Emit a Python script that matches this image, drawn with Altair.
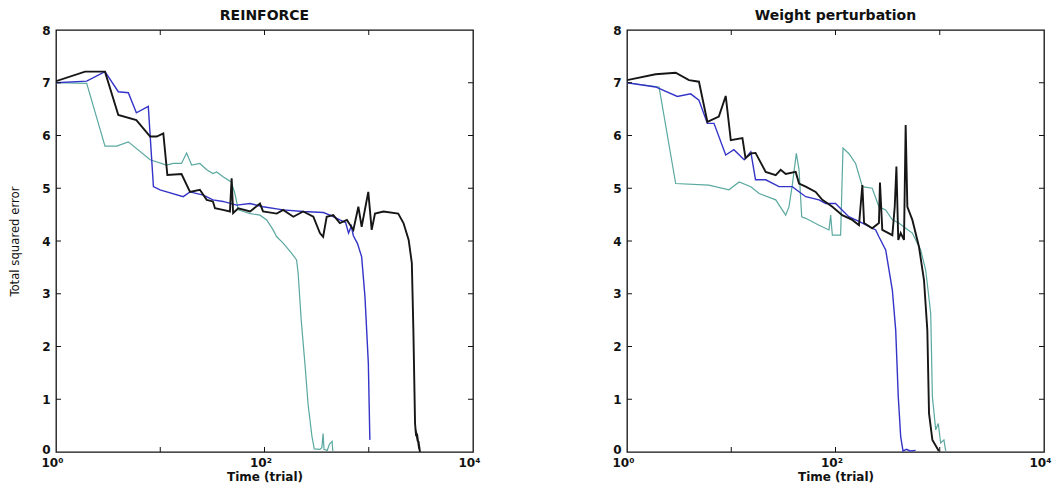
import altair as alt
import pandas as pd

# ---------------- data ----------------
# REINFORCE panel
rf_teal_x = [1, 1.97, 2.95, 3.82, 4.94, 8, 11.5, 13.3, 16, 17.9, 20, 24, 27.9, 32, 34.8, 40, 48,
             52, 56, 62.7, 72.8, 90.5, 105, 121, 131, 151, 180, 203, 210, 225, 246, 262, 285,
             300, 340, 355, 365, 372, 400, 420, 445, 452]
rf_teal_y = [7.0, 6.99, 5.80, 5.80, 5.88, 5.54, 5.44, 5.47, 5.47, 5.67, 5.44, 5.47, 5.35, 5.28, 5.31, 5.22, 5.12,
             4.90, 4.59, 4.56, 4.52, 4.49, 4.40, 4.21, 4.08, 3.96, 3.78, 3.64, 3.40, 2.50, 1.60, 0.90, 0.30,
             0.06, 0.05, 0.08, 0.35, 0.05, 0.03, 0.15, 0.20, 0.02]

rf_blue_x = [1, 1.97, 2.95, 3.96, 4.94, 5.9, 7.68, 8.6, 9.95, 16.6, 19.3, 25.9, 32, 40, 54, 72.8,
             96.8, 151, 235, 367, 425, 528, 600, 640, 680, 712, 780, 855, 920, 991, 1025]
rf_blue_y = [7.0, 7.03, 7.21, 6.83, 6.81, 6.43, 6.55, 5.03, 4.97, 4.84, 4.93, 4.87, 4.78, 4.75, 4.68, 4.71,
             4.65, 4.59, 4.56, 4.54, 4.49, 4.40, 4.35, 4.15, 4.28, 4.10, 3.95, 3.70, 2.94, 1.68, 0.23]

rf_black_x = [1, 1.9, 2.95, 3.96, 5.9, 8, 9.25, 10.7, 11.7, 16, 19.3, 24, 27.9, 32, 33.5, 40, 46.6,
              48.4, 50, 56, 72.8, 90.5, 96.8, 131, 151, 189, 235, 294, 340, 365, 395, 457, 528,
              617, 712, 795, 855, 990, 1067, 1148, 1384, 1917, 2153, 2415, 2590, 2680, 2780,
              2850, 2800, 2950, 2900, 3050, 3000, 3100]
rf_black_y = [7.03, 7.21, 7.21, 6.39, 6.29, 5.98, 5.98, 6.04, 5.25, 5.27, 4.93, 4.97, 4.78, 4.75, 4.62, 4.59, 4.56,
              5.19, 4.53, 4.62, 4.56, 4.71, 4.56, 4.52, 4.59, 4.46, 4.56, 4.46, 4.15, 4.08, 4.46, 4.49, 4.34,
              4.40, 4.21, 4.65, 4.27, 4.93, 4.21, 4.52, 4.56, 4.52, 4.34, 4.02, 3.58, 2.31, 0.54,
              0.30, 0.45, 0.20, 0.35, 0.05, 0.20, 0.0]

# Weight perturbation panel
wp_teal_x = [1, 2.03, 2.93, 6.1, 9.5, 11.9, 15.4, 18.5, 26.7, 33.3, 35.8, 38.5, 42.1, 44.7, 47.4, 51.8,
             69.5, 86.6, 89.9, 93.3, 112, 118, 134, 156, 181, 225, 261, 303, 351, 405, 471, 546,
             610, 656, 733, 819, 850, 915, 968, 1020, 1097, 1140]
wp_teal_y = [7.0, 6.92, 5.09, 5.06, 4.97, 5.12, 5.03, 4.90, 4.78, 4.49, 4.65, 5.06, 5.66, 5.35, 4.46, 4.43,
             4.30, 4.21, 4.49, 4.11, 4.11, 5.76, 5.66, 5.47, 5.03, 5.00, 4.65, 4.59, 4.40, 4.34, 4.24, 4.15,
             3.96, 3.83, 3.45, 2.63, 1.05, 0.42, 0.54, 0.17, 0.23, 0.02]

wp_blue_x = [1, 1.88, 3.04, 4.08, 4.9, 5.9, 6.83, 8.85, 10.6, 13.3, 15.4, 17.1, 21.4, 28.7, 38.5, 51.8,
             69.5, 80.5, 100, 134, 168, 243, 261, 303, 351, 378, 400, 422, 444, 480, 520, 587]
wp_blue_y = [7.0, 6.92, 6.74, 6.79, 6.67, 6.23, 6.23, 5.63, 5.73, 5.54, 5.69, 5.16, 5.16, 5.03, 5.03, 4.84,
             4.78, 4.71, 4.71, 4.46, 4.37, 4.21, 4.08, 3.83, 3.07, 2.31, 1.05, 0.29, 0.02, 0.05, 0.02, 0.03]

wp_black_x = [1, 1.88, 2.93, 3.93, 4.9, 5.9, 7.6, 8.85, 9.9, 12.8, 13.7, 15.4, 17.1, 21.4, 26.7, 29.8,
              33.3, 41.5, 44.7, 51.8, 64.5, 74.7, 93.3, 116, 145, 168, 181, 188, 225, 261, 267, 281,
              351, 370, 384, 400, 422, 454, 471, 489, 546, 632, 706, 760, 789, 850, 980]
wp_black_y = [7.05, 7.16, 7.19, 7.05, 7.02, 6.26, 6.36, 6.75, 5.91, 5.95, 5.57, 5.66, 5.67, 5.31, 5.25, 5.35,
              5.27, 5.31, 5.09, 5.03, 4.93, 4.78, 4.65, 4.49, 4.40, 4.30, 5.06, 4.34, 4.24, 4.34, 5.11, 4.21,
              4.11, 4.65, 5.41, 4.02, 4.15, 4.02, 6.20, 4.65, 4.40, 3.89, 3.26, 2.31, 0.73, 0.23, 0.02]

titles = ["REINFORCE", "Weight perturbation"]
series_names = ["teal", "blue", "black"]
series_colors = ["#5aa8a0", "#3434c8", "#161616"]
series_widths = [1.2, 1.4, 1.9]

x_tick_values = [1, 100, 10000]
x_minor_ticks = [10, 100, 1000]
y_tick_values = [0, 1, 2, 3, 4, 5, 6, 7, 8]
y_inner_ticks = [1, 2, 3, 4, 5, 6, 7]

W, H = 417, 422
TICK = 5
FONT = "DejaVu Sans"
NARROW = "DejaVu Sans Condensed, Liberation Sans Narrow, Liberation Sans"


def make_df(xs_list, ys_list):
    rows = []
    for name, xs, ys in zip(series_names, xs_list, ys_list):
        for i, (xv, yv) in enumerate(zip(xs, ys)):
            rows.append({"x": xv, "y": yv, "s": name, "i": i})
    return pd.DataFrame(rows)


xscale = alt.Scale(type="log", domain=[1, 10000])
yscale = alt.Scale(domain=[0, 8], nice=False, zero=False)
label_expr = "datum.value == 1 ? '10⁰' : datum.value == 100 ? '10²' : '10⁴'"


def panel(df, title, show_ytitle):
    xaxis = alt.Axis(values=x_tick_values, labelExpr=label_expr, ticks=False, domain=False, grid=False,
                     title="Time (trial)", labelFont=FONT, labelFontSize=12, labelFontWeight="bold",
                     labelColor="#111", labelPadding=5, labelOffset=-4, titleFont=FONT, titleFontSize=12,
                     titleFontWeight="bold", titleColor="#111", titlePadding=3, labelFlush=False)
    yaxis = alt.Axis(values=y_tick_values, ticks=False, domain=False, grid=False,
                     title="Total squared error" if show_ytitle else "",
                     labelFont=FONT, labelFontSize=12, labelFontWeight="bold", labelColor="#111",
                     labelPadding=6,
                     labelOffset={"condition": {"test": "datum.value == 0", "value": -3}, "value": 0},
                     titleFont=NARROW, titleFontSize=13,
                     titleFontWeight="normal", titleColor="#111", titlePadding=20)
    X = alt.X("x:Q", scale=xscale, axis=xaxis)
    Y = alt.Y("y:Q", scale=yscale, axis=yaxis)
    layers = []
    for k, name in enumerate(series_names):
        sub = df[df.s == name]
        layers.append(
            alt.Chart(sub).mark_line(color=series_colors[k], strokeWidth=series_widths[k],
                                     clip=True).encode(x=X, y=Y, order="i:Q")
        )
    xt = pd.DataFrame({"x": x_minor_ticks})
    yt = pd.DataFrame({"y": y_inner_ticks})
    tick_style = dict(color="#111", strokeWidth=1)
    layers.append(alt.Chart(xt).mark_rule(**tick_style).encode(
        x=X, y=alt.value(H), y2=alt.value(H - TICK)))
    layers.append(alt.Chart(xt).mark_rule(**tick_style).encode(
        x=X, y=alt.value(0), y2=alt.value(TICK)))
    layers.append(alt.Chart(yt).mark_rule(**tick_style).encode(
        y=Y, x=alt.value(0), x2=alt.value(TICK)))
    layers.append(alt.Chart(yt).mark_rule(**tick_style).encode(
        y=Y, x=alt.value(W), x2=alt.value(W - TICK)))
    return alt.layer(*layers).properties(
        width=W, height=H,
        title=alt.TitleParams(title, font=FONT, fontSize=14, fontWeight="bold", color="#111",
                              offset=1, frame="group"),
    )


df_rf = make_df([rf_teal_x, rf_blue_x, rf_black_x], [rf_teal_y, rf_blue_y, rf_black_y])
df_wp = make_df([wp_teal_x, wp_blue_x, wp_black_x], [wp_teal_y, wp_blue_y, wp_black_y])

chart = alt.hconcat(
    panel(df_rf, titles[0], True),
    panel(df_wp, titles[1], False),
    spacing=130,
).properties(
    padding={"left": 0, "top": 0, "right": 0, "bottom": 0}
).configure(
    background="white"
).configure_view(
    stroke="#111", strokeWidth=1.3
)

chart.save("out.html", embed_options={"renderer": "svg", "actions": False})
